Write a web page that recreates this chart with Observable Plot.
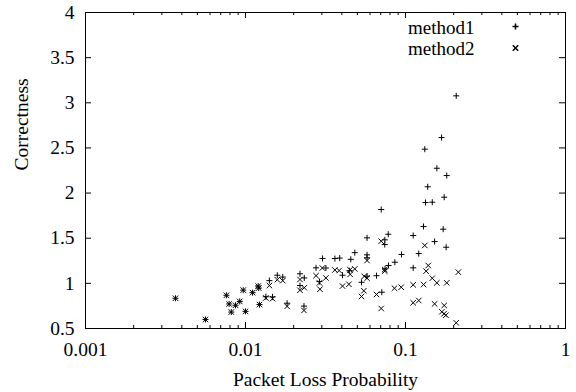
<!DOCTYPE html>
<html><head><meta charset="utf-8">
<script src="https://cdn.jsdelivr.net/npm/d3@7"></script>
<script src="https://cdn.jsdelivr.net/npm/@observablehq/plot@0.6"></script>
<style>body{margin:0;background:#fff}</style>
</head><body><div id="chart"></div>
<script>
// Series values
const method1X = [0.00365,0.00562,0.0076,0.0079,0.00815,0.00866,0.0092,0.00968,0.0100,0.01107,0.0120,0.0121,0.01223,0.0134,0.0141,0.01475,0.0158,0.0171,0.0182,0.0219,0.0219,0.0232,0.0233,0.0276,0.0303,0.0318,0.029,0.0362,0.0388,0.0404,0.0446,0.0455,0.0482,0.0531,0.0575,0.0575,0.0575,0.0575,0.0659,0.0705,0.0711,0.0743,0.0742,0.0745,0.078,0.0783,0.0858,0.0944,0.1117,0.1117,0.121,0.1296,0.132,0.1334,0.1377,0.147,0.152,0.157,0.168,0.172,0.1745,0.1795,0.181,0.2075];
const method1Y = [0.835,0.60,0.868,0.772,0.682,0.757,0.80,0.925,0.69,0.897,0.97,0.948,0.765,0.852,1.03,0.85,1.09,1.07,0.78,1.106,0.976,0.748,1.06,1.172,1.276,1.17,1.02,1.275,1.28,1.09,1.14,1.266,1.34,1.012,1.504,1.316,1.283,1.08,1.085,1.818,0.902,1.482,1.43,1.16,1.544,1.198,1.234,1.32,1.53,1.172,1.33,1.63,2.486,1.895,2.07,1.899,1.463,2.275,2.615,1.60,1.954,1.40,2.194,3.077];
const method2X = [0.00365,0.00562,0.0076,0.0079,0.00815,0.00866,0.0092,0.00968,0.0100,0.01107,0.0120,0.0121,0.01223,0.0134,0.0141,0.01475,0.0158,0.0171,0.0182,0.0219,0.0219,0.0232,0.0233,0.0276,0.0302,0.0318,0.029,0.0292,0.0362,0.0385,0.0404,0.0443,0.045,0.0451,0.0482,0.0531,0.0549,0.0552,0.0575,0.0575,0.0659,0.0705,0.0705,0.0742,0.0742,0.0853,0.094,0.1117,0.1117,0.121,0.1297,0.132,0.1345,0.1387,0.147,0.152,0.157,0.1687,0.174,0.1745,0.1788,0.181,0.2075,0.214];
const method2Y = [0.835,0.60,0.868,0.772,0.682,0.757,0.80,0.925,0.69,0.897,0.97,0.948,0.765,0.838,0.976,0.83,1.04,1.03,0.745,1.043,0.924,0.70,0.952,1.085,1.17,1.06,1.005,0.935,1.148,1.142,0.97,0.99,1.15,1.10,1.16,0.855,0.918,1.078,1.253,1.057,0.877,1.467,0.722,1.153,1.135,0.946,0.957,0.984,0.785,0.81,0.987,1.42,1.135,1.198,1.057,0.773,1.006,0.685,0.663,0.755,0.647,1.006,0.563,1.124];

const seriesNames = ["method1", "method2"];
const xTicks = [0.001, 0.01, 0.1, 1];
const xTickLabels = ["0.001", "0.01", "0.1", "1"];
const yTicks = [0.5, 1, 1.5, 2, 2.5, 3, 3.5, 4];
const yTickLabels = ["0.5", "1", "1.5", "2", "2.5", "3", "3.5", "4"];
const xLabel = "Packet Loss Probability";
const yLabel = "Correctness";

const xMinorTicks = [];
for (const d of [0.001, 0.01, 0.1]) for (let m = 2; m <= 9; m++) xMinorTicks.push(d * m);

const m1 = method1X.map((x, i) => ({x, y: method1Y[i]}));
const m2 = method2X.map((x, i) => ({x, y: method2Y[i]}));

const W = 576, H = 392, mL = 85, mR = 11, mT = 12, mB = 64;
const fw = W - mL - mR, fh = H - mT - mB;
const major = 6, minor = 3;
const ink = "#000";

const chart = Plot.plot({
  width: W, height: H,
  marginLeft: mL, marginRight: mR, marginTop: mT, marginBottom: mB,
  style: {fontFamily: '"Liberation Serif", "Times New Roman", serif', fontSize: "19.5px", background: "#fff", color: ink},
  x: {type: "log", domain: [0.001, 1]},
  y: {domain: [0.5, 4]},
  marks: [
    Plot.tickX(xTicks, {x: d => d, insetTop: fh - major, stroke: ink}),
    Plot.tickX(xTicks, {x: d => d, insetBottom: fh - major, stroke: ink}),
    Plot.tickX(xMinorTicks, {x: d => d, insetTop: fh - minor, stroke: ink}),
    Plot.tickX(xMinorTicks, {x: d => d, insetBottom: fh - minor, stroke: ink}),
    Plot.tickY(yTicks, {y: d => d, insetRight: fw - major, stroke: ink}),
    Plot.tickY(yTicks, {y: d => d, insetLeft: fw - major, stroke: ink}),
    Plot.axisX({ticks: xTicks, tickFormat: d => xTickLabels[xTicks.indexOf(d)], tickSize: 0, tickPadding: 14, label: null}),
    Plot.axisY({ticks: yTicks, tickFormat: d => yTickLabels[yTicks.indexOf(d)], tickSize: 0, tickPadding: 11, label: null}),
    Plot.frame({stroke: ink}),
    Plot.dot(m1, {x: "x", y: "y", symbol: "plus", r: 2.1, stroke: ink, strokeWidth: 1}),
    Plot.dot(m2, {x: "x", y: "y", symbol: "times", r: 2.6, stroke: ink, strokeWidth: 1}),
    Plot.text([seriesNames[0]], {frameAnchor: "top-right", text: d => d, textAnchor: "end", lineAnchor: "bottom", dx: -91, dy: 21, fontSize: 19, fill: ink}),
    Plot.text([seriesNames[1]], {frameAnchor: "top-right", text: d => d, textAnchor: "end", lineAnchor: "bottom", dx: -91, dy: 42.5, fontSize: 19, fill: ink}),
    Plot.dot([seriesNames[0]], {frameAnchor: "top-right", symbol: "plus", r: 2.1, dx: -50, dy: 14, stroke: ink}),
    Plot.dot([seriesNames[1]], {frameAnchor: "top-right", symbol: "times", r: 2.6, dx: -50, dy: 35.5, stroke: ink}),
    Plot.text([xLabel], {frameAnchor: "bottom", text: d => d, lineAnchor: "bottom", dy: 57, fill: ink}),
    Plot.text([yLabel], {frameAnchor: "left", text: d => d, rotate: -90, lineAnchor: "bottom", dx: -58, fill: ink})
  ]
});
document.getElementById("chart").appendChild(chart);
</script>
</body></html>
